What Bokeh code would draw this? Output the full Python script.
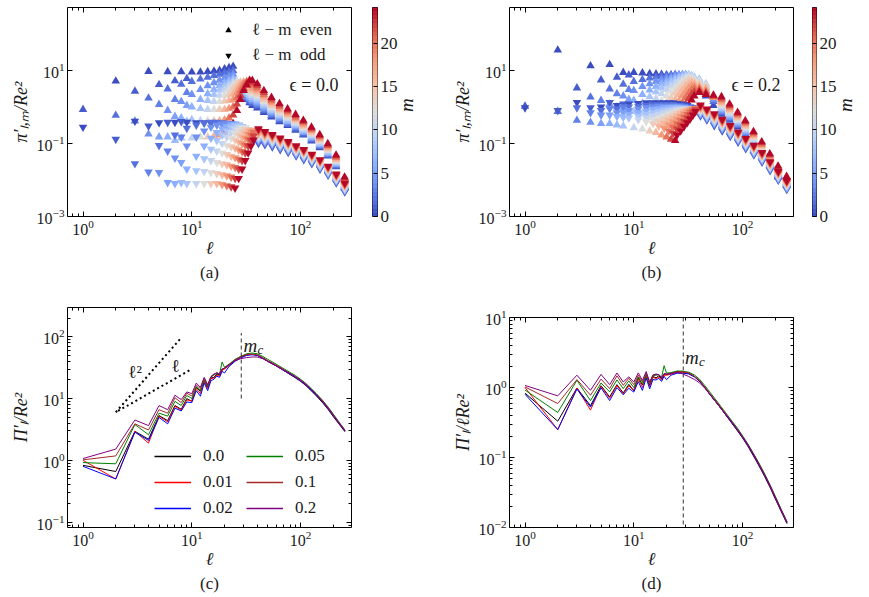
import numpy as np
from bokeh.plotting import figure
from bokeh.layouts import row, column
from bokeh.models import (Range1d, FixedTicker, LogAxis, LinearAxis, Legend, LegendItem,
                          Title, ColumnDataSource, LinearColorMapper, Span, Spacer)
from bokeh.embed import file_html
from bokeh.resources import INLINE
from bokeh.core.properties import value

FONT = "Liberation Serif"

# ------------------------------------------------------------------ data
M_ROWS = [0, 2, 4, 6, 8, 10, 12, 14, 16, 18, 20, 22, 24]
DENSE_END_UP = 36
DENSE_END_DN = 37
COARSE_UP = [40, 46, 54, 64, 76, 90, 106, 126, 150, 178, 212, 254]
COARSE_DN = [41, 47, 55, 65, 77, 91, 107, 127, 151, 179, 213, 255]

# ---- panel (a), epsilon = 0.0 : l-m even (up triangles)
A_UP_M00 = [5.1, 9.4, 9.2, 9.2, 9.0, 9.0, 9.3, 9.6, 10, 11, 12, 13, 4.0, 2.6, 2.0, 1.6, 1.3, 1.1,
            0.94, 0.70, 0.53, 0.39, 0.31, 0.23, 0.17, 0.116, 0.076, 0.045, 0.023, 0.0060]
A_UP_M02 = [0.59, 1.75, 3.1, 4.2, 5.0, 5.8, 6.5, 7.2, 7.8, 8.5, 9.0, 9.8, 3.8, 2.7, 2.1, 1.75, 1.45, 1.25,
            1.06, 0.79, 0.58, 0.43, 0.33, 0.25, 0.18, 0.125, 0.081, 0.048, 0.024, 0.0064]
A_UP_M04 = [0.18, 0.8, 1.4, 2.2, 3.0, 3.8, 4.6, 5.4, 6.2, 7.0, 7.8, 4.0, 3.0, 2.4, 1.95, 1.65, 1.42,
            1.21, 0.88, 0.65, 0.48, 0.37, 0.28, 0.20, 0.134, 0.087, 0.051, 0.026, 0.0067]
A_UP_M06 = [0.15, 0.5, 1.0, 1.6, 2.3, 3.0, 3.8, 4.6, 5.4, 6.2, 4.4, 3.3, 2.7, 2.2, 1.85, 1.6,
            1.37, 0.99, 0.72, 0.53, 0.40, 0.30, 0.21, 0.145, 0.094, 0.054, 0.027, 0.0071]
A_UP_M08 = [0.14, 0.45, 0.9, 1.5, 2.2, 2.9, 3.7, 4.5, 5.3, 4.8, 3.7, 3.0, 2.5, 2.1, 1.8,
            1.55, 1.11, 0.80, 0.58, 0.44, 0.32, 0.23, 0.156, 0.100, 0.058, 0.029, 0.0076]
A_UP_M10 = [0.14, 0.42, 0.85, 1.4, 2.1, 2.9, 3.8, 4.6, 5.0, 4.1, 3.3, 2.8, 2.4, 2.05,
            1.76, 1.25, 0.88, 0.64, 0.48, 0.35, 0.25, 0.167, 0.107, 0.062, 0.031, 0.0080]
A_UP_M12 = [0.15, 0.42, 0.85, 1.4, 2.1, 3.0, 4.0, 5.0, 4.5, 3.7, 3.1, 2.7, 2.3,
            2.0, 1.4, 0.98, 0.70, 0.52, 0.38, 0.27, 0.18, 0.115, 0.066, 0.033, 0.0085]
A_UP_M14 = [0.15, 0.42, 0.85, 1.45, 2.2, 3.2, 4.3, 4.8, 4.1, 3.5, 3.0, 2.6,
            2.27, 1.57, 1.09, 0.77, 0.57, 0.41, 0.29, 0.194, 0.123, 0.070, 0.035, 0.0090]
A_UP_M16 = [0.16, 0.42, 0.85, 1.5, 2.3, 3.3, 4.5, 4.6, 4.0, 3.4, 2.9,
            2.58, 1.76, 1.21, 0.85, 0.62, 0.45, 0.31, 0.208, 0.132, 0.075, 0.037, 0.0095]
A_UP_M18 = [0.17, 0.44, 0.9, 1.6, 2.5, 3.6, 4.8, 4.5, 3.9, 3.3,
            2.92, 1.98, 1.34, 0.93, 0.68, 0.48, 0.34, 0.224, 0.141, 0.080, 0.040, 0.0101]
A_UP_M20 = [0.2, 0.5, 1.0, 1.8, 2.8, 4.0, 5.0, 4.5, 3.9,
            3.3, 2.2, 1.48, 1.03, 0.74, 0.52, 0.37, 0.241, 0.152, 0.086, 0.042, 0.0107]
A_UP_M22 = [0.25, 0.6, 1.2, 2.1, 3.2, 4.5, 5.4, 4.6,
            3.8, 2.5, 1.65, 1.13, 0.81, 0.57, 0.40, 0.259, 0.162, 0.091, 0.045, 0.0113]
A_UP_M24 = [0.35, 0.8, 1.6, 2.8, 4.0, 5.2, 5.3,
            4.3, 2.8, 1.82, 1.24, 0.88, 0.62, 0.43, 0.279, 0.174, 0.098, 0.048, 0.0120]
# ---- panel (a): l-m odd (down triangles)
A_DN_M00 = [0.28, 0.41, 0.37, 0.38, 0.38, 0.37, 0.37, 0.36, 0.36, 0.35, 0.35, 0.34, 0.32, 0.29, 0.25, 0.21, 0.17, 0.14, 0.12,
            0.101, 0.093, 0.081, 0.068, 0.057, 0.046, 0.036, 0.028, 0.020, 0.0137, 0.0083, 0.0047]
A_DN_M02 = [0.028, 0.088, 0.17, 0.26, 0.32, 0.36, 0.38, 0.38, 0.37, 0.36, 0.35, 0.33, 0.3, 0.26, 0.22, 0.18, 0.15, 0.13,
            0.109, 0.099, 0.087, 0.072, 0.060, 0.048, 0.038, 0.030, 0.021, 0.0143, 0.0087, 0.0049]
A_DN_M04 = [0.016, 0.04, 0.085, 0.15, 0.22, 0.28, 0.32, 0.34, 0.35, 0.35, 0.34, 0.31, 0.27, 0.23, 0.19, 0.16, 0.14,
            0.118, 0.106, 0.092, 0.077, 0.064, 0.051, 0.040, 0.031, 0.022, 0.0150, 0.0092, 0.0052]
A_DN_M06 = [0.008, 0.02, 0.045, 0.085, 0.14, 0.2, 0.25, 0.29, 0.32, 0.33, 0.32, 0.29, 0.25, 0.21, 0.18, 0.15,
            0.127, 0.114, 0.099, 0.082, 0.067, 0.054, 0.043, 0.033, 0.023, 0.0157, 0.0096, 0.0054]
A_DN_M08 = [0.008, 0.018, 0.038, 0.07, 0.12, 0.17, 0.22, 0.27, 0.3, 0.31, 0.29, 0.26, 0.22, 0.19, 0.16,
            0.137, 0.122, 0.105, 0.087, 0.071, 0.057, 0.045, 0.034, 0.024, 0.0164, 0.0100, 0.0057]
A_DN_M10 = [0.008, 0.017, 0.034, 0.062, 0.1, 0.15, 0.2, 0.25, 0.28, 0.28, 0.26, 0.23, 0.2, 0.17,
            0.148, 0.131, 0.112, 0.092, 0.076, 0.060, 0.047, 0.036, 0.026, 0.0172, 0.0105, 0.0059]
A_DN_M12 = [0.008, 0.016, 0.03, 0.055, 0.09, 0.14, 0.19, 0.23, 0.26, 0.26, 0.24, 0.21, 0.19,
            0.16, 0.14, 0.12, 0.098, 0.08, 0.063, 0.05, 0.038, 0.027, 0.018, 0.011, 0.0062]
A_DN_M14 = [0.008, 0.015, 0.028, 0.05, 0.082, 0.125, 0.17, 0.21, 0.24, 0.24, 0.22, 0.2,
            0.173, 0.150, 0.128, 0.104, 0.085, 0.066, 0.053, 0.040, 0.028, 0.0188, 0.0115, 0.0065]
A_DN_M16 = [0.008, 0.014, 0.026, 0.045, 0.075, 0.11, 0.15, 0.19, 0.22, 0.23, 0.21,
            0.187, 0.161, 0.137, 0.111, 0.090, 0.070, 0.056, 0.042, 0.030, 0.0197, 0.0121, 0.0068]
A_DN_M18 = [0.0075, 0.013, 0.024, 0.041, 0.067, 0.1, 0.14, 0.18, 0.21, 0.22,
            0.201, 0.172, 0.146, 0.118, 0.095, 0.074, 0.059, 0.044, 0.031, 0.0207, 0.0126, 0.0071]
A_DN_M20 = [0.007, 0.012, 0.022, 0.037, 0.06, 0.09, 0.13, 0.17, 0.2,
            0.217, 0.185, 0.156, 0.125, 0.101, 0.078, 0.062, 0.046, 0.033, 0.0216, 0.0132, 0.0075]
A_DN_M22 = [0.0065, 0.011, 0.02, 0.034, 0.055, 0.085, 0.12, 0.16,
            0.235, 0.198, 0.166, 0.133, 0.107, 0.082, 0.065, 0.049, 0.035, 0.0227, 0.0138, 0.0078]
A_DN_M24 = [0.006, 0.011, 0.02, 0.034, 0.055, 0.085, 0.125,
            0.254, 0.212, 0.177, 0.142, 0.113, 0.087, 0.069, 0.051, 0.036, 0.0237, 0.0145, 0.0082]
# ---- odd-m points at low l (both panels share the l, m lists)
XTRA_ELL = [1, 3, 5, 7, 9, 2, 4, 6, 8, 3, 5, 7, 9, 4, 6, 8, 5, 7, 9, 6, 8, 7, 9, 8]
XTRA_M = [1, 1, 1, 1, 1, 1, 1, 1, 1, 3, 3, 3, 3, 3, 3, 3, 5, 5, 5, 5, 5, 7, 7, 7]
A_XTRA_VAL = [0.85, 2.7, 4.1, 5.2, 6.0, 0.13, 0.3, 0.38, 0.4, 0.41, 1.17, 1.6, 2.5,
              0.0165, 0.062, 0.15, 0.15, 0.55, 1.1, 0.0085, 0.03, 0.12, 0.4, 0.0085]

# ---- panel (b), epsilon = 0.2 : up triangles
B_UP_M00 = [36, 13.4, 14.5, 8.8, 8.8, 8.5, 8.2, 8.0, 7.8, 7.6, 7.4, 7.0, 6.5, 5.8, 5.0, 4.3, 3.7, 3.2,
            2.6, 2.0, 1.1, 0.63, 0.43, 0.28, 0.174, 0.093, 0.051, 0.025, 0.0120, 0.0072]
B_UP_M02 = [0.75, 1.86, 3.1, 4.2, 5.0, 5.6, 6.2, 6.6, 7.0, 7.3, 7.6, 7.8, 7.6, 7.2, 6.6, 6.0, 5.4, 4.8,
            4.2, 2.8, 1.4, 0.69, 0.47, 0.31, 0.188, 0.099, 0.054, 0.026, 0.0128, 0.0075]
B_UP_M04 = [0.38, 1.2, 2.0, 2.8, 3.6, 4.3, 5.0, 5.6, 6.2, 6.7, 7.2, 7.6, 7.8, 7.6, 7.0, 6.3, 5.6,
            5.0, 3.5, 1.6, 0.76, 0.51, 0.33, 0.20, 0.106, 0.058, 0.028, 0.0135, 0.0079]
B_UP_M06 = [0.35, 0.9, 1.5, 2.2, 2.9, 3.6, 4.3, 5.0, 5.7, 6.3, 6.9, 7.4, 7.8, 7.6, 7.0, 6.3,
            5.6, 4.0, 1.8, 0.83, 0.56, 0.36, 0.217, 0.114, 0.062, 0.030, 0.0143, 0.0083]
B_UP_M08 = [0.3, 0.75, 1.3, 1.9, 2.6, 3.3, 4.0, 4.7, 5.4, 6.1, 6.8, 7.4, 7.6, 7.2, 6.5,
            5.8, 4.3, 1.9, 0.92, 0.61, 0.39, 0.233, 0.122, 0.066, 0.032, 0.0151, 0.0087]
B_UP_M10 = [0.27, 0.65, 1.1, 1.7, 2.3, 3.0, 3.7, 4.4, 5.2, 6.0, 6.7, 7.2, 6.8, 6.2,
            5.6, 4.2, 1.9, 1.0, 0.66, 0.42, 0.251, 0.131, 0.070, 0.034, 0.0160, 0.0091]
B_UP_M12 = [0.25, 0.55, 0.95, 1.45, 2.0, 2.7, 3.4, 4.2, 5.0, 5.8, 6.4, 6.2, 5.6,
            5.0, 3.9, 1.85, 1.1, 0.72, 0.45, 0.27, 0.14, 0.075, 0.036, 0.017, 0.0095]
B_UP_M14 = [0.22, 0.48, 0.85, 1.3, 1.8, 2.4, 3.1, 3.9, 4.7, 5.4, 5.3, 4.9,
            4.4, 3.6, 1.8, 1.21, 0.78, 0.49, 0.29, 0.150, 0.080, 0.038, 0.0180, 0.0099]
B_UP_M16 = [0.2, 0.42, 0.75, 1.15, 1.6, 2.2, 2.9, 3.6, 4.3, 4.6, 4.3,
            3.8, 3.2, 1.8, 1.32, 0.85, 0.52, 0.31, 0.161, 0.086, 0.041, 0.0191, 0.0104]
B_UP_M18 = [0.17, 0.36, 0.65, 1.0, 1.45, 2.0, 2.6, 3.3, 3.8, 3.8,
            3.4, 2.9, 1.85, 1.45, 0.93, 0.57, 0.34, 0.172, 0.091, 0.043, 0.0202, 0.0109]
B_UP_M20 = [0.15, 0.31, 0.56, 0.9, 1.3, 1.8, 2.4, 2.9, 3.2,
            3.1, 2.6, 1.9, 1.59, 1.01, 0.61, 0.36, 0.185, 0.097, 0.046, 0.0214, 0.0114]
B_UP_M22 = [0.13, 0.28, 0.5, 0.82, 1.2, 1.7, 2.2, 2.6,
            2.8, 2.4, 2.0, 1.74, 1.10, 0.66, 0.39, 0.198, 0.104, 0.049, 0.0227, 0.0120]
B_UP_M24 = [0.12, 0.25, 0.45, 0.75, 1.1, 1.55, 2.0,
            2.5, 2.2, 2.1, 1.91, 1.20, 0.71, 0.42, 0.212, 0.111, 0.052, 0.0240, 0.0125]
# ---- panel (b): down triangles
B_DN_M00 = [0.95, 1.33, 1.0, 1.1, 1.2, 1.25, 1.3, 1.3, 1.3, 1.3, 1.3, 1.3, 1.25, 1.2, 1.15, 1.1, 1.0, 0.95, 0.9,
            0.57, 0.44, 0.31, 0.22, 0.156, 0.109, 0.072, 0.049, 0.031, 0.0182, 0.0099, 0.0055]
B_DN_M02 = [0.95, 0.8, 0.9, 1.0, 1.05, 1.1, 1.15, 1.15, 1.15, 1.15, 1.15, 1.1, 1.1, 1.05, 1.0, 0.95, 0.9, 0.85,
            0.60, 0.47, 0.33, 0.24, 0.165, 0.115, 0.076, 0.051, 0.033, 0.0191, 0.0103, 0.0057]
B_DN_M04 = [0.6, 0.7, 0.8, 0.88, 0.95, 1.0, 1.05, 1.05, 1.05, 1.05, 1.05, 1.0, 1.0, 0.95, 0.9, 0.85, 0.8,
            0.64, 0.49, 0.35, 0.25, 0.175, 0.121, 0.081, 0.054, 0.034, 0.0200, 0.0108, 0.0060]
B_DN_M06 = [0.55, 0.62, 0.7, 0.78, 0.85, 0.9, 0.95, 0.97, 0.98, 0.98, 0.97, 0.95, 0.92, 0.88, 0.83, 0.78,
            0.67, 0.52, 0.37, 0.27, 0.185, 0.128, 0.085, 0.057, 0.036, 0.0209, 0.0113, 0.0063]
B_DN_M08 = [0.5, 0.56, 0.63, 0.7, 0.76, 0.82, 0.86, 0.9, 0.92, 0.92, 0.9, 0.88, 0.85, 0.8, 0.75,
            0.71, 0.55, 0.40, 0.28, 0.196, 0.135, 0.090, 0.060, 0.038, 0.0219, 0.0119, 0.0066]
B_DN_M10 = [0.45, 0.5, 0.57, 0.63, 0.7, 0.75, 0.8, 0.84, 0.87, 0.88, 0.86, 0.83, 0.79, 0.74,
            0.76, 0.59, 0.42, 0.30, 0.208, 0.142, 0.095, 0.063, 0.040, 0.0229, 0.0124, 0.0069]
B_DN_M12 = [0.4, 0.45, 0.51, 0.58, 0.64, 0.7, 0.76, 0.81, 0.85, 0.86, 0.84, 0.8, 0.75,
            0.8, 0.62, 0.45, 0.32, 0.22, 0.15, 0.1, 0.066, 0.042, 0.024, 0.013, 0.0072]
B_DN_M14 = [0.35, 0.4, 0.46, 0.53, 0.6, 0.67, 0.74, 0.8, 0.85, 0.86, 0.83, 0.78,
            0.85, 0.66, 0.48, 0.34, 0.233, 0.158, 0.106, 0.069, 0.044, 0.0251, 0.0136, 0.0075]
B_DN_M16 = [0.3, 0.36, 0.42, 0.49, 0.57, 0.65, 0.73, 0.8, 0.86, 0.88, 0.84,
            0.90, 0.70, 0.51, 0.36, 0.247, 0.167, 0.111, 0.073, 0.046, 0.0263, 0.0142, 0.0079]
B_DN_M18 = [0.26, 0.32, 0.39, 0.46, 0.55, 0.64, 0.73, 0.82, 0.88, 0.9,
            0.95, 0.74, 0.54, 0.38, 0.262, 0.176, 0.118, 0.077, 0.049, 0.0276, 0.0149, 0.0083]
B_DN_M20 = [0.22, 0.28, 0.35, 0.43, 0.52, 0.62, 0.72, 0.82, 0.9,
            1.01, 0.78, 0.58, 0.41, 0.277, 0.186, 0.124, 0.081, 0.051, 0.0288, 0.0156, 0.0087]
B_DN_M22 = [0.19, 0.25, 0.32, 0.4, 0.5, 0.6, 0.72, 0.84,
            1.07, 0.83, 0.61, 0.43, 0.293, 0.196, 0.131, 0.085, 0.054, 0.0302, 0.0164, 0.0091]
B_DN_M24 = [0.17, 0.22, 0.29, 0.37, 0.47, 0.6, 0.75,
            1.13, 0.88, 0.65, 0.46, 0.311, 0.207, 0.138, 0.089, 0.057, 0.0316, 0.0171, 0.0095]
B_XTRA_VAL = [1.05, 3.3, 5.5, 6.5, 7.5, 0.8, 0.95, 1.33, 1.2, 0.43, 1.5, 2.3, 3.0,
              0.7, 0.9, 1.0, 0.35, 1.0, 1.6, 0.6, 0.7, 0.32, 0.8, 0.52]

# ---- panels (c), (d): total transfer Pi'_l / Re^2 for several epsilon
C_ELL = [1, 2, 3, 4, 5, 6, 7, 8, 9, 10, 11, 12, 13, 14, 15, 16, 17, 18, 19, 20,
         22, 25, 28, 32, 36, 40, 45, 50, 56, 63, 70, 80, 90, 100, 112, 125, 140, 160, 180, 200, 225, 256]
C_EPS_000 = [0.83, 0.66, 2.95, 2.2, 5.3, 4.4, 7.7, 6.7, 10.0, 9.0, 15.2, 13.1, 19.5, 15.2, 21.5, 22, 25, 24, 29.4, 31,
             35, 42.6, 47, 51, 52, 50, 45, 40, 36, 32, 28.5, 24.5, 21.5, 19, 16.2, 13.4, 11.0, 8.5, 6.6, 5.1, 3.9, 2.9]
C_EPS_001 = [1.0, 0.50, 2.95, 1.9, 5.2, 4.2, 7.5, 6.5, 9.5, 9.2, 14.5, 12.0, 19, 14.5, 21, 21.5, 24, 23, 28.5, 30,
             34, 41, 46, 51, 52, 50, 45, 40, 36, 32, 28.5, 24.8, 22, 19.3, 16.5, 13.8, 11.3, 8.8, 6.8, 5.3, 4.0, 3.0]
C_EPS_002 = [0.80, 0.50, 2.85, 2.1, 4.95, 3.9, 7.0, 6.3, 8.8, 8.6, 13.4, 10.9, 17.8, 13.4, 19.5, 20.5, 23, 22, 27.5, 25.9,
             33, 40, 45, 50, 51, 50, 45, 40, 36, 32, 28.5, 24.8, 22, 19.3, 16.5, 13.8, 11.3, 8.8, 6.8, 5.3, 4.0, 3.0]
C_EPS_005 = [0.92, 0.88, 3.8, 2.6, 5.8, 5.2, 9.0, 7.7, 11.2, 10.0, 15.5, 13.5, 20, 16, 22, 24, 26, 25, 39, 32,
             36, 43, 48, 53, 54.5, 53, 48, 43, 38.5, 34, 30.5, 26.5, 23.5, 20.5, 17.5, 14.6, 12, 9.3, 7.2, 5.6, 4.2, 3.1]
C_EPS_010 = [1.02, 1.18, 3.9, 3.1, 6.6, 5.8, 10.3, 8.6, 12.2, 11.0, 16.5, 14.5, 21, 16.5, 22.5, 24.5, 26, 25, 30, 31,
             35, 42, 47, 52, 52, 51, 46, 41, 37, 33, 29.5, 25.5, 22.5, 19.8, 17, 14.2, 11.6, 9.0, 7.0, 5.4, 4.1, 3.05]
C_EPS_020 = [1.07, 1.52, 4.5, 3.65, 7.7, 6.6, 11.3, 9.6, 12.8, 12.0, 17.8, 15.2, 22, 16.8, 22.7, 25, 26, 25, 30, 31,
             35, 41, 44, 46, 47, 47, 44, 40, 36, 32, 29, 25.5, 22.5, 19.8, 17, 14.2, 11.6, 9.0, 7.0, 5.4, 4.1, 3.05]
EPS_LABELS = ["0.0", "0.01", "0.02", "0.05", "0.1", "0.2"]
EPS_COLORS = ["black", "red", "blue", "green", "brown", "purple"]
M_C = 28.5
SLOPE2_ELL = [2, 8]
SLOPE2_VAL = [6, 96]
SLOPE1_ELL = [2.1, 10]
SLOPE1_VAL = [6.3, 30]

# ---------------------------------------------------------------- styling
X_LO, X_HI = 0.72, 294
X_MAJOR = [1, 10, 100]
X_MINOR = [0.8, 0.9] + [k for k in range(2, 10)] + [10 * k for k in range(2, 10)] + [200]
CW_ANCHORS = ["#3b4cc0", "#6282ea", "#8db0fe", "#b8d0f9", "#dddddd",
              "#f5c4ac", "#f49a7b", "#de604d", "#b40426"]


def make_palette(anchors, n=256):
    rgb = [tuple(int(a[i:i + 2], 16) for i in (1, 3, 5)) for a in anchors]
    out = []
    for k in range(n):
        t = k / (n - 1) * (len(rgb) - 1)
        i = min(int(t), len(rgb) - 2)
        f = t - i
        c = [round(rgb[i][j] + (rgb[i + 1][j] - rgb[i][j]) * f) for j in range(3)]
        out.append("#%02x%02x%02x" % tuple(c))
    return out


PAL = make_palette(CW_ANCHORS)
M_LOW, M_HIGH = 0, 24.1
MAPPER = LinearColorMapper(palette=PAL, low=M_LOW, high=M_HIGH)
TXT = "#1a1a1a"


def style_axis(ax, labels=True):
    ax.axis_line_color = None
    ax.major_tick_in = 5
    ax.major_tick_out = 0
    ax.minor_tick_in = 3
    ax.minor_tick_out = 0
    ax.major_tick_line_color = "black"
    ax.minor_tick_line_color = "black"
    ax.major_label_text_font = FONT
    ax.axis_label_text_font = FONT
    ax.major_label_text_color = TXT
    ax.axis_label_text_color = TXT
    if labels:
        ax.major_label_text_font_size = "16px"
        ax.major_label_standoff = 3
        ax.axis_label_text_font_size = "18px"
        ax.axis_label_standoff = 0
    else:
        ax.major_label_text_font_size = "1px"
        ax.major_label_text_alpha = 0
        ax.major_label_standoff = 0


def make_panel(width, height, ml, mr, mt, mb, yr, y_major, y_minor, ylabel, caption):
    p = figure(width=width, height=height, x_axis_type="log", y_axis_type="log",
               x_range=Range1d(X_LO, X_HI), y_range=Range1d(*yr),
               toolbar_location=None, output_backend="svg",
               min_border_left=ml, min_border_right=mr, min_border_top=mt, min_border_bottom=mb)
    p.xgrid.visible = False
    p.ygrid.visible = False
    p.outline_line_color = "black"
    p.outline_line_alpha = 1
    p.outline_line_width = 1
    p.background_fill_color = "white"
    p.border_fill_color = "white"
    xb = p.below[0]
    yl = p.left[0]
    xb.ticker = FixedTicker(ticks=X_MAJOR, minor_ticks=X_MINOR)
    yl.ticker = FixedTicker(ticks=y_major, minor_ticks=y_minor)
    style_axis(xb)
    style_axis(yl)
    xb.axis_label = "ℓ"
    yl.axis_label = ylabel
    yl.axis_label_standoff = 3
    xt = LogAxis(ticker=FixedTicker(ticks=X_MAJOR, minor_ticks=X_MINOR))
    style_axis(xt, False)
    p.add_layout(xt, "above")
    yr_ax = LogAxis(ticker=FixedTicker(ticks=y_major, minor_ticks=y_minor))
    style_axis(yr_ax, False)
    p.add_layout(yr_ax, "right")
    p.add_layout(Title(text=caption, align="center", text_font=FONT, text_font_size="17px",
                       text_font_style="normal", text_color=TXT, standoff=0), "below")
    return p


def make_cbar(width, ml, mr):
    cb = figure(width=width, height=300, x_range=Range1d(0, 1), y_range=Range1d(M_LOW, M_HIGH),
                toolbar_location=None, output_backend="svg",
                min_border_left=ml, min_border_right=mr, min_border_top=7, min_border_bottom=84,
                x_axis_location=None, y_axis_location="right")
    cb.xgrid.visible = False
    cb.ygrid.visible = False
    cb.outline_line_color = "black"
    cb.outline_line_alpha = 1
    n = 160
    edges = np.linspace(M_LOW, M_HIGH, n + 1)
    mids = 0.5 * (edges[:-1] + edges[1:])
    cols = [PAL[min(255, int(v / M_HIGH * 256))] for v in mids]
    cb.quad(left=0, right=1, bottom=edges[:-1], top=edges[1:], fill_color=cols, line_color=cols, line_width=0.6)
    ax = cb.right[0]
    ax.ticker = FixedTicker(ticks=[0, 5, 10, 15, 20], minor_ticks=[])
    style_axis(ax)
    ax.major_tick_in = 4
    ax.major_label_text_font_size = "17px"
    ax.major_label_standoff = 3
    ax.axis_label = "m"
    ax.axis_label_text_font_size = "19px"
    ax.axis_label_standoff = 6
    ax.axis_label_orientation = np.pi / 2
    return cb


def scatter_source(up_rows, dn_rows, xtra_val):
    L, M, V, U = [], [], [], []
    for m, vals in zip(M_ROWS, up_rows):
        ells = list(range(max(m, 2), DENSE_END_UP + 1, 2)) + COARSE_UP
        for l, v in zip(ells, vals):
            L.append(l); M.append(m); V.append(v); U.append(True)
    for m, vals in zip(M_ROWS, dn_rows):
        ells = list(range(m + 1, DENSE_END_DN + 1, 2)) + COARSE_DN
        for l, v in zip(ells, vals):
            L.append(l); M.append(m); V.append(v); U.append(False)
    for l, m, v in zip(XTRA_ELL, XTRA_M, xtra_val):
        L.append(l); M.append(m); V.append(v); U.append((l - m) % 2 == 0)
    order = sorted(range(len(L)), key=lambda i: M[i])
    up = dict(l=[L[i] for i in order if U[i]], v=[V[i] for i in order if U[i]], m=[M[i] for i in order if U[i]])
    dn = dict(l=[L[i] for i in order if not U[i]], v=[V[i] for i in order if not U[i]], m=[M[i] for i in order if not U[i]])
    return ColumnDataSource(up), ColumnDataSource(dn)


MARKER_SIZE = 8.5


def draw_scatter(p, up_rows, dn_rows, xtra_val):
    s_up, s_dn = scatter_source(up_rows, dn_rows, xtra_val)
    fc = {"field": "m", "transform": MAPPER}
    p.scatter(x="l", y="v", source=s_up, marker="triangle", size=MARKER_SIZE, fill_color=fc, line_color=None)
    p.scatter(x="l", y="v", source=s_dn, marker="inverted_triangle", size=MARKER_SIZE, fill_color=fc, line_color=None)


TOP_YR = (0.000998, 530)
TOP_YMAJ = [1e-3, 1e-1, 1e1]
# off-range source used only by legend proxy glyphs
LEG_SRC = ColumnDataSource(dict(l=[1e-6, 2e-6], v=[1e-9, 1e-9]))

# ---------------------------------------------------------------- panel (a)
pa = make_panel(362, 300, 67, 11, 7, 84, TOP_YR, TOP_YMAJ, [], "π′ₗ,ₘ/Re²", "(a)")
draw_scatter(pa,
             [A_UP_M00, A_UP_M02, A_UP_M04, A_UP_M06, A_UP_M08, A_UP_M10, A_UP_M12,
              A_UP_M14, A_UP_M16, A_UP_M18, A_UP_M20, A_UP_M22, A_UP_M24],
             [A_DN_M00, A_DN_M02, A_DN_M04, A_DN_M06, A_DN_M08, A_DN_M10, A_DN_M12,
              A_DN_M14, A_DN_M16, A_DN_M18, A_DN_M20, A_DN_M22, A_DN_M24],
             A_XTRA_VAL)
r_even = pa.scatter(x="l", y="v", source=LEG_SRC, marker="triangle", size=9, fill_color="black", line_color=None)
r_odd = pa.scatter(x="l", y="v", source=LEG_SRC, marker="inverted_triangle", size=9, fill_color="black", line_color=None)
leg_a = Legend(items=[LegendItem(label="ℓ − m\u2002even", renderers=[r_even]),
                      LegendItem(label="ℓ − m\u2002odd", renderers=[r_odd])],
               location=(153, 151), background_fill_alpha=0, border_line_color=None,
               padding=0, margin=0, spacing=5, glyph_width=16, glyph_height=16, label_height=16,
               label_standoff=16, label_text_font=FONT, label_text_font_size="17px",
               label_text_color=TXT)
pa.add_layout(leg_a)
pa.text(x=[223], y=[3.9], text=["ϵ = 0.0"], text_align="right", text_baseline="middle",
        text_font=value(FONT), text_font_size=value("18px"), text_color=TXT)

# ---------------------------------------------------------------- panel (b)
pb = make_panel(370, 300, 79, 7, 7, 84, TOP_YR, TOP_YMAJ, [], "π′ₗ,ₘ/Re²", "(b)")
draw_scatter(pb,
             [B_UP_M00, B_UP_M02, B_UP_M04, B_UP_M06, B_UP_M08, B_UP_M10, B_UP_M12,
              B_UP_M14, B_UP_M16, B_UP_M18, B_UP_M20, B_UP_M22, B_UP_M24],
             [B_DN_M00, B_DN_M02, B_DN_M04, B_DN_M06, B_DN_M08, B_DN_M10, B_DN_M12,
              B_DN_M14, B_DN_M16, B_DN_M18, B_DN_M20, B_DN_M22, B_DN_M24],
             B_XTRA_VAL)
pb.text(x=[223], y=[3.9], text=["ϵ = 0.2"], text_align="right", text_baseline="middle",
        text_font=value(FONT), text_font_size=value("18px"), text_color=TXT)

cba = make_cbar(68, 10, 44)
cbb = make_cbar(69, 12, 43)

# ---------------------------------------------------------------- panel (c)
C_SERIES = [C_EPS_000, C_EPS_001, C_EPS_002, C_EPS_005, C_EPS_010, C_EPS_020]
C_YMIN = [0.09] + [k / 10 for k in range(2, 10)] + list(range(2, 10)) + [10 * k for k in range(2, 10)] + [200]
pc = make_panel(430, 297, 67, 79, 7, 70, (0.082, 297), [0.1, 1, 10, 100], C_YMIN, "Π′ₗ/Re²", "(c)")
items = []
for lab, col, vals in zip(EPS_LABELS, EPS_COLORS, C_SERIES):
    pc.line(C_ELL, vals, line_color=col, line_width=1)
    proxy = pc.line(x="l", y="v", source=LEG_SRC, line_color=col, line_width=1.6)
    items.append(LegendItem(label=lab, renderers=[proxy]))
leg_c = Legend(items=items, ncols=2, location=(87, 9), background_fill_alpha=0, border_line_color=None,
               padding=0, margin=0, spacing=6, glyph_width=37, glyph_height=16, label_height=16,
               label_width=37, label_standoff=12, label_text_font=FONT, label_text_font_size="17px",
               label_text_color=TXT)
pc.add_layout(leg_c)
pc.line(SLOPE2_ELL, SLOPE2_VAL, line_color="black", line_width=2, line_dash="2 3")
pc.line(SLOPE1_ELL, SLOPE1_VAL, line_color="black", line_width=2, line_dash="2 3")
pc.text(x=[3.0, 7.1], y=[26.5, 33], text=["ℓ²", "ℓ"], text_align="center", text_baseline="middle",
        text_font=value(FONT), text_font_size=value("18px"), text_color=TXT)
pc.line([M_C, M_C], [10, 115], line_color="#333333", line_width=1, line_dash="4 3")
pc.text(x=[M_C * 1.05], y=[72], text=["m"], text_align="left", text_baseline="alphabetic",
        text_font=value(FONT), text_font_size=value("19px"), text_font_style="italic", text_color=TXT)
pc.text(x=[M_C * 1.05], y=[72], text=["c"], x_offset=14, y_offset=4, text_align="left",
        text_baseline="alphabetic", text_font=value(FONT), text_font_size=value("13px"),
        text_font_style="italic", text_color=TXT)

# ---------------------------------------------------------------- panel (d)
D_YMIN = [k / 100 for k in range(2, 10)] + [k / 10 for k in range(2, 10)] + list(range(2, 10))
pd_ = make_panel(439, 295, 79, 76, 15, 70, (0.00998, 10.02), [0.01, 0.1, 1, 10], D_YMIN, "Π′ₗ/ℓRe²", "(d)")
for col, vals in zip(EPS_COLORS, C_SERIES):
    pd_.line(C_ELL, [v / l for v, l in zip(vals, C_ELL)], line_color=col, line_width=1)
pd_.add_layout(Span(location=M_C, dimension="height", line_color="#333333", line_width=1, line_dash="4 3"))
pd_.text(x=[M_C * 1.04], y=[2.7], text=["m"], text_align="left", text_baseline="alphabetic",
         text_font=value(FONT), text_font_size=value("19px"), text_font_style="italic", text_color=TXT)
pd_.text(x=[M_C * 1.04], y=[2.7], text=["c"], x_offset=14, y_offset=4, text_align="left",
         text_baseline="alphabetic", text_font=value(FONT), text_font_size=value("13px"),
         text_font_style="italic", text_color=TXT)

bottom_right = column(Spacer(width=439, height=2), pd_, spacing=0)
layout = column(row(pa, cba, pb, cbb, spacing=0), row(pc, bottom_right, spacing=0), spacing=0)
open("out.html", "w", encoding="utf-8").write(file_html(layout, INLINE, "spectra"))
